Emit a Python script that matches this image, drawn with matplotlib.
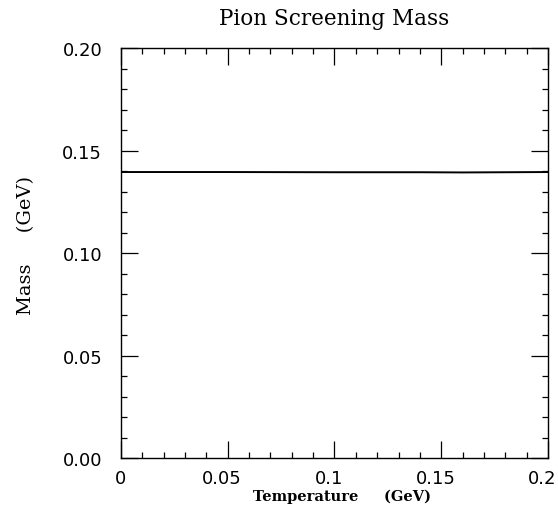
import matplotlib
matplotlib.use("Agg")
import matplotlib.pyplot as plt
from matplotlib.ticker import MultipleLocator
import matplotlib.transforms as mtransforms

# pion screening mass vs temperature (flat curve)
temperature = [0.0, 0.05, 0.10, 0.14, 0.16, 0.18, 0.20]
mass = [0.1395, 0.1395, 0.1394, 0.1394, 0.1393, 0.1394, 0.1395]

xticks = [0, 0.05, 0.1, 0.15, 0.2]
xticklabels = ["0", "0.05", "0.1", "0.15", "0.2"]
yticks = [0.0, 0.05, 0.10, 0.15, 0.20]
yticklabels = ["0.00", "0.05", "0.10", "0.15", "0.20"]

fig = plt.figure(figsize=(5.58, 5.10), dpi=100)
ax = fig.add_axes([0.2168, 0.1, 0.7652, 0.8039])
ax.plot(temperature, mass, color="black", lw=1.4)

ax.set_xlim(0, 0.2)
ax.set_ylim(0, 0.2)
ax.set_xticks(xticks)
ax.set_xticklabels(xticklabels)
ax.set_yticks(yticks)
ax.set_yticklabels(yticklabels)
ax.xaxis.set_minor_locator(MultipleLocator(0.01))
ax.yaxis.set_minor_locator(MultipleLocator(0.01))
ax.tick_params(which="both", direction="in", top=True, right=True, width=0.9,
               labelsize=13)
ax.tick_params(axis="x", pad=8)
ax.tick_params(axis="y", pad=13.5)
ax.tick_params(which="major", length=12.5)
ax.tick_params(which="minor", length=4)
for lab in ax.get_xticklabels() + ax.get_yticklabels():
    lab.set_family("DejaVu Sans")
# x labels sit a little left of their ticks in the original
for lab in ax.get_xticklabels()[1:]:
    lab.set_transform(lab.get_transform() +
                      mtransforms.ScaledTranslation(-4 / 72, 0, fig.dpi_scale_trans))
for s in ax.spines.values():
    s.set_linewidth(1.0)

ax.set_title("Pion Screening Mass", fontsize=15.5, family="DejaVu Serif", pad=17)
ax.set_xlabel("Temperature     (GeV)", fontsize=10.5, family="DejaVu Serif",
              fontweight="bold")
ax.xaxis.set_label_coords(0.518, -0.075)
ax.set_ylabel("Mass     (GeV)", fontsize=14, family="DejaVu Serif")
ax.yaxis.set_label_coords(-0.2, 0.52)

fig.savefig("out.png", dpi=100)
